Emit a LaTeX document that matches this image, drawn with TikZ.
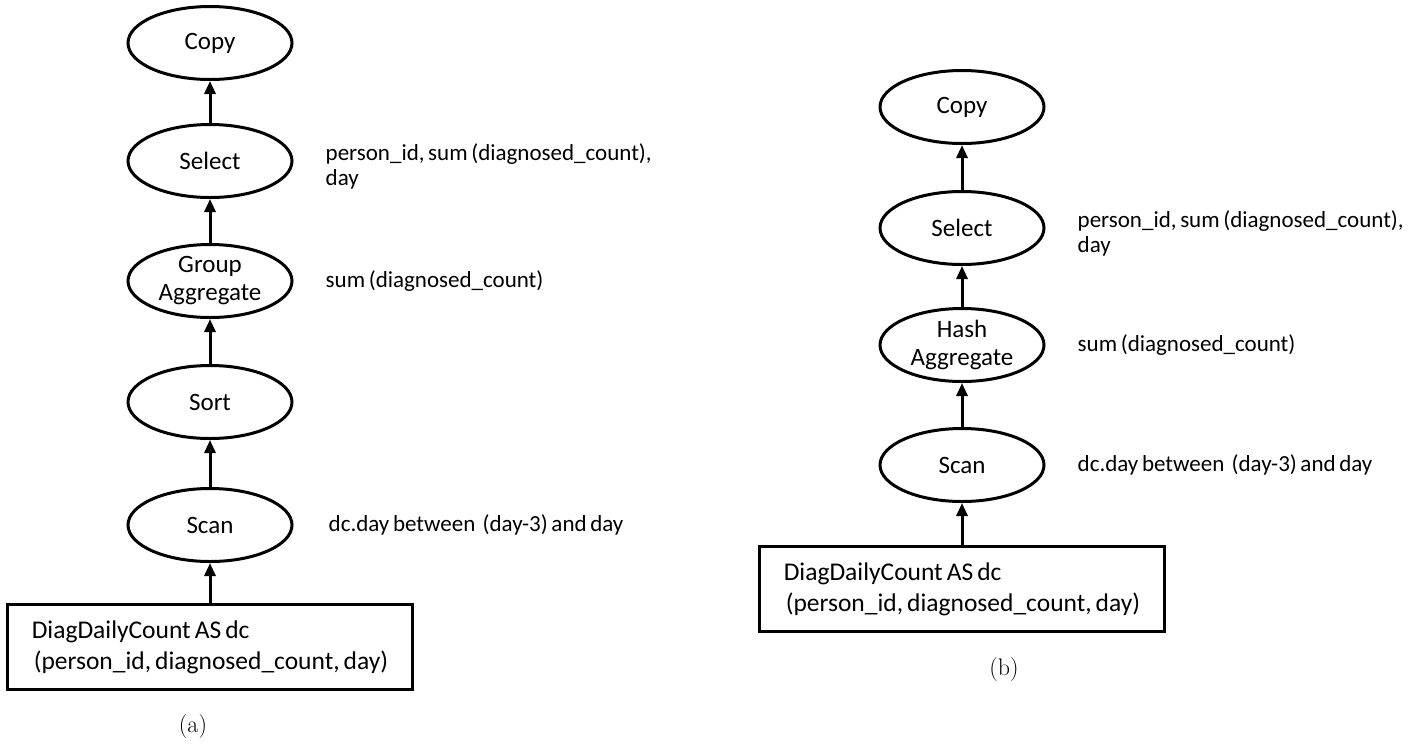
\documentclass[tikz,border=0pt]{standalone}
\usepackage{fontspec}
\usepackage{tikz}
\usetikzlibrary{shapes.geometric, arrows.meta, positioning}
\newfontfamily\calib[WordSpace=0.7]{Carlito}

\begin{document}
\begin{tikzpicture}[
    x=1pt, y=-1pt,
    node distance=45pt,
    op/.style={ellipse, draw=black, line width=3pt, minimum width=164pt, minimum height=73pt, inner sep=0pt, align=center, font=\calib\fontsize{25}{28}\selectfont},
    table/.style={rectangle, draw=black, line width=3pt, minimum width=405pt, minimum height=85pt, align=left, font=\calib\fontsize{25.5}{31}\selectfont},
    note/.style={align=left, inner sep=0pt, font=\calib\fontsize{23}{25}\selectfont},
    caption/.style={font=\fontsize{24}{29}\selectfont},
    arrow/.style={line width=3pt, -{Triangle[length=13pt, width=11pt]}}
]
    \useasboundingbox (0,0) rectangle (1418,748);

    % (a) plan with sort and group aggregate
    \node[op] (copyA) at (210,43) {Copy};
    \node[op, below=42pt of copyA] (selectA) {Select};
    \node[op, below=44pt of selectA] (aggA) {Group\\Aggregate};
    \node[op, below=of aggA] (sortA) {Sort};
    \node[op, below=47pt of sortA] (scanA) {Scan};
    \node[table, below=40pt of scanA] (tableA) {DiagDailyCount AS dc\\\hspace{2pt}(person\_id, diagnosed\_count, day)};

    \node[note, right=32pt of selectA, yshift=-5pt] (selnoteA) {person\_id, sum (diagnosed\_count),\\day};
    \node[note, right=32pt of aggA] (aggnoteA) {sum (diagnosed\_count)};
    \node[note, right=35pt of scanA] (scannoteA) {dc.day between\ \ (day-3) and day};
    \node[caption] (capA) at (193,726) {(a)};

    \draw[arrow] (tableA) -- (scanA);
    \draw[arrow] (scanA) -- (sortA);
    \draw[arrow] (sortA) -- (aggA);
    \draw[arrow] (aggA) -- (selectA);
    \draw[arrow] (selectA) -- (copyA);

    % (b) plan with hash aggregate
    \node[op] (copyB) at (962,107) {Copy};
    \node[op, below=of copyB] (selectB) {Select};
    \node[op, below=41pt of selectB] (aggB) {Hash\\Aggregate};
    \node[op, below=44pt of aggB] (scanB) {Scan};
    \node[table, below=42pt of scanB] (tableB) {DiagDailyCount AS dc\\\hspace{2pt}(person\_id, diagnosed\_count, day)};

    \node[note, right=32pt of selectB, yshift=-5pt] (selnoteB) {person\_id, sum (diagnosed\_count),\\day};
    \node[note, right=32pt of aggB] (aggnoteB) {sum (diagnosed\_count)};
    \node[note, right=32pt of scanB] (scannoteB) {dc.day between\ \ (day-3) and day};
    \node[caption] (capB) at (1004,669) {(b)};

    \draw[arrow] (tableB) -- (scanB);
    \draw[arrow] (scanB) -- (aggB);
    \draw[arrow] (aggB) -- (selectB);
    \draw[arrow] (selectB) -- (copyB);

\end{tikzpicture}
\end{document}
